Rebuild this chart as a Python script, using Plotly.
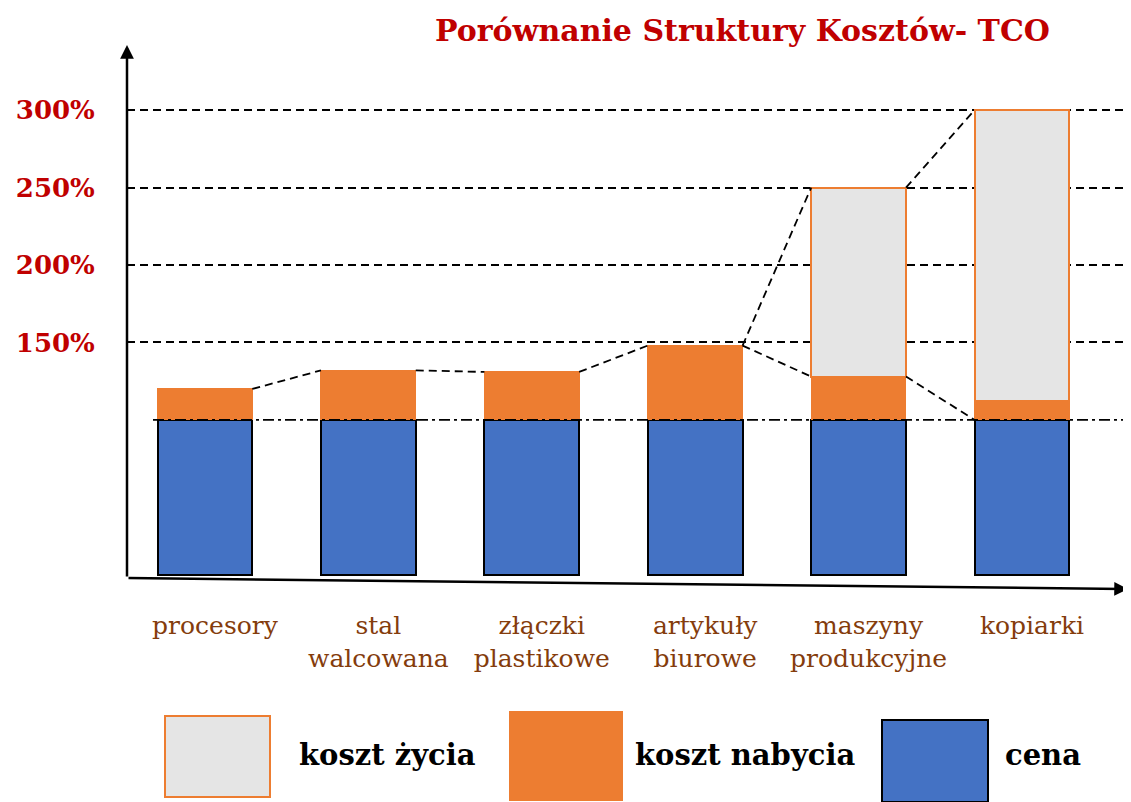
import plotly.graph_objects as go

# ---------------- data ----------------
categories = ["procesory", "stal<br>walcowana", "złączki<br>plastikowe",
              "artykuły<br>biurowe", "maszyny<br>produkcyjne", "kopiarki"]
cena = [100, 100, 100, 100, 100, 100]
koszt_nabycia = [20, 32, 31, 48, 28, 12]
koszt_zycia = [None, None, None, None, 122, 188]
y_tickvals = [150, 200, 250, 300]
y_ticktext = ["150%", "200%", "250%", "300%"]
title_text = "Porównanie Struktury Kosztów- TCO"
legend_names = ["koszt życia", "koszt nabycia", "cena"]
# connectors: (from bar, level, to bar, level)
connectors = [(0, "nab", 1, "nab"), (1, "nab", 2, "nab"), (2, "nab", 3, "nab"),
              (3, "nab", 4, "zyc"), (3, "nab", 4, "nab"),
              (4, "zyc", 5, "zyc"), (4, "nab", 5, "cena")]

# ---------------- styles ----------------
BLUE = "#4472C4"
ORANGE = "#ED7D31"
GREY = "#E5E5E5"
RED = "#C00000"
BROWN = "#843C0C"
FONT = "DejaVu Serif"
OFF = 8                      # default page margin around the plot div
W, H = 1131 - OFF, 802 - OFF
L, T, B, R = 127 - OFF, 45 - OFF, 224, 0
BAR_W = 0.58
DASH = "8px,5px"
DASHDOT = "11px,4px,3px,4px"

xs = list(range(len(categories)))
top_cena = cena[:]
top_nab = [c + n for c, n in zip(cena, koszt_nabycia)]
top_zyc = [tn + (z or 0) for tn, z in zip(top_nab, koszt_zycia)]
levels = {"cena": top_cena, "nab": top_nab, "zyc": top_zyc}


def px(xs_):
    """screen x -> paper x"""
    return (xs_ - OFF - L) / (W - L - R)


def py(ys_):
    """screen y -> paper y"""
    return (H - B - (ys_ - OFF)) / (H - T - B)


fig = go.Figure()
fig.add_trace(go.Bar(x=xs, y=cena, name=legend_names[2], width=BAR_W,
                     marker=dict(color=BLUE, line=dict(color="black", width=2))))
fig.add_trace(go.Bar(x=xs, y=koszt_nabycia, name=legend_names[1], width=BAR_W,
                     marker=dict(color=ORANGE, line=dict(color=ORANGE, width=1))))
fig.add_trace(go.Bar(x=xs, y=koszt_zycia, name=legend_names[0], width=BAR_W,
                     marker=dict(color=GREY, line=dict(color=ORANGE, width=2))))

for a, la, b, lb in connectors:
    fig.add_trace(go.Scatter(x=[a + BAR_W / 2, b - BAR_W / 2],
                             y=[levels[la][a], levels[lb][b]],
                             mode="lines", showlegend=False, hoverinfo="skip",
                             line=dict(color="black", width=1.8, dash=DASH)))

shapes = []
# dash-dot reference line at the price level
shapes.append(dict(type="line", xref="paper", yref="y", x0=px(153), x1=1,
                   y0=cena[0], y1=cena[0],
                   line=dict(color="black", width=1.8, dash=DASHDOT), layer="above"))

annotations = []
# axes arrows
annotations.append(dict(xref="paper", yref="paper", axref="pixel", ayref="pixel",
                        x=0, y=1, ax=0, ay=H - B - T, text="", showarrow=True,
                        arrowhead=2, arrowsize=1.1, arrowwidth=2.5, arrowcolor="black"))
annotations.append(dict(xref="paper", yref="paper", axref="pixel", ayref="pixel",
                        x=px(1128), y=py(589), ax=127 - 1128, ay=578 - 589, text="",
                        showarrow=True, arrowhead=2, arrowsize=1.1, arrowwidth=2.5,
                        arrowcolor="black"))
# title
annotations.append(dict(xref="paper", yref="paper", x=px(742), y=py(30),
                        xanchor="center", yanchor="middle", showarrow=False,
                        text="<b>" + title_text + "</b>",
                        font=dict(family=FONT, size=30, color=RED)))
# legend
leg_boxes = [(165, 270, 716, 797, GREY, ORANGE), (510, 622, 712, 800, ORANGE, ORANGE),
             (882, 988, 720, 802, BLUE, "black")]
leg_text_x = [297, 633, 1003]
for (x0, x1, y0, y1, fc, lc), name, tx in zip(leg_boxes, legend_names, leg_text_x):
    shapes.append(dict(type="rect", xref="paper", yref="paper", x0=px(x0), x1=px(x1),
                       y0=py(y1), y1=py(y0), fillcolor=fc, line=dict(color=lc, width=2)))
    annotations.append(dict(xref="paper", yref="paper", x=px(tx), y=py(755),
                            xanchor="left", yanchor="middle", showarrow=False,
                            text="<b>" + name + "</b>",
                            font=dict(family=FONT, size=29, color="black")))

fig.update_layout(
    width=W, height=H,
    margin=dict(l=L, r=R, t=T, b=B),
    barmode="stack",
    showlegend=False,
    plot_bgcolor="white", paper_bgcolor="white",
    annotations=annotations,
    shapes=shapes,
    xaxis=dict(tickmode="array", tickvals=xs, ticktext=categories,
               range=[-0.477, 5.667], showgrid=False, zeroline=False, showline=False,
               ticks="outside", ticklen=25, tickcolor="rgba(0,0,0,0)",
               ticklabelshift=10,
               tickfont=dict(family=FONT, size=25, color=BROWN)),
    yaxis=dict(range=[-2, 342], tickmode="array", tickvals=y_tickvals,
               ticktext=["<b>" + t + "</b>" for t in y_ticktext],
               showgrid=True, gridcolor="black", gridwidth=1.8, griddash=DASH,
               zeroline=False, showline=False,
               ticks="outside", ticklen=26, tickcolor="rgba(0,0,0,0)",
               tickfont=dict(family=FONT, size=26, color=RED)),
)

fig.write_html("out.html")
